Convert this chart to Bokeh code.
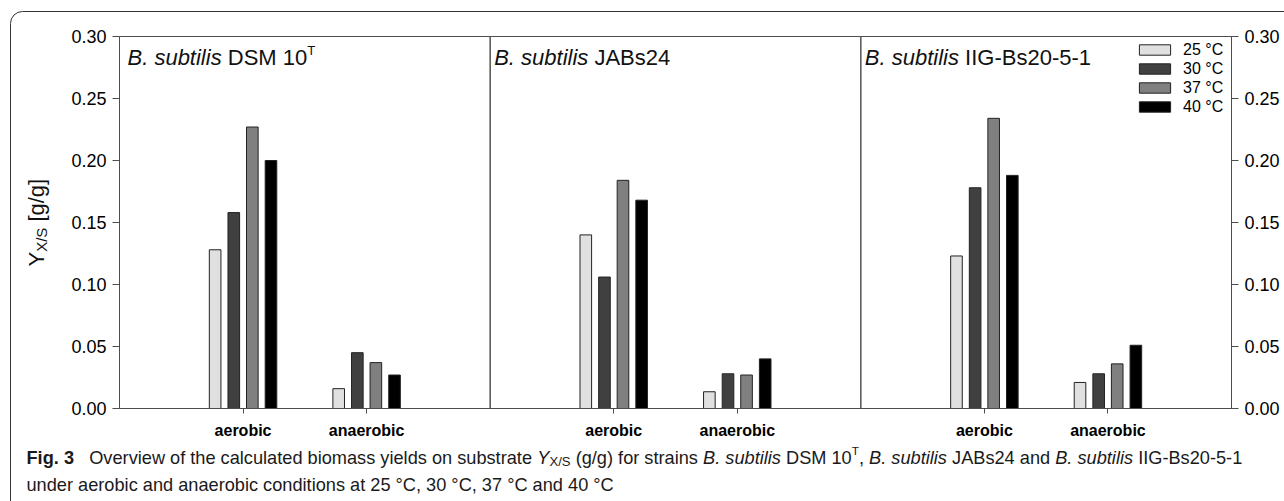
import math
from bokeh.plotting import figure
from bokeh.models import (Label, Legend, LegendItem, LinearAxis, FixedTicker,
                          BoxAnnotation, Range1d, PrintfTickFormatter)
from bokeh.embed import file_html
from bokeh.resources import INLINE

# ---------------- data ----------------
strains = ["DSM 10", "JABs24", "IIG-Bs20-5-1"]
conditions = ["aerobic", "anaerobic"]
temps = ["25 °C", "30 °C", "37 °C", "40 °C"]
# order: (DSM aerobic, DSM anaerobic, JABs24 aerobic, JABs24 anaerobic, IIG aerobic, IIG anaerobic)
y25 = [0.128, 0.016, 0.140, 0.0135, 0.123, 0.021]
y30 = [0.158, 0.045, 0.106, 0.028, 0.178, 0.028]
y37 = [0.227, 0.037, 0.184, 0.027, 0.234, 0.036]
y40 = [0.200, 0.027, 0.168, 0.040, 0.188, 0.051]
y_ticks = [0.00, 0.05, 0.10, 0.15, 0.20, 0.25, 0.30]

colors = ["#e0e0e0", "#404040", "#808080", "#000000"]

# ---------------- layout constants (pixels) ----------------
W, H = 1284, 501
FL, FR, FT, FB = 119, 1231, 36, 408     # plot box inside the canvas
XMAX = 3 * len(strains)
YMAX = 0.30
TEXT_DY = -6   # empirical baseline correction for Label text


def px2x(px):
    return (px - FL) / (FR - FL) * XMAX


def px2y(py):
    return (FB - py) / (FB - FT) * YMAX


# the frame covers the whole canvas so that texts outside the plot box are not clipped
p = figure(width=W, height=H, x_range=Range1d(px2x(0), px2x(W)), y_range=Range1d(px2y(H), px2y(0)),
           output_backend="svg", toolbar_location=None,
           x_axis_location=None, y_axis_location=None,
           min_border=0, min_border_left=0, min_border_right=0, min_border_top=0,
           min_border_bottom=0)
p.grid.visible = False
p.outline_line_color = None
p.background_fill_color = "white"
p.border_fill_color = "white"

TICK_FONT = "Liberation Sans"
AX_COLOR = "#4d4d4d"

# y axes (left and right), fixed at the plot-box edges
lax = LinearAxis(ticker=FixedTicker(ticks=y_ticks), formatter=PrintfTickFormatter(format="%.2f"),
                 fixed_location=0, bounds=(0, YMAX))
rax = LinearAxis(ticker=FixedTicker(ticks=y_ticks), formatter=PrintfTickFormatter(format="%.2f"),
                 fixed_location=XMAX, bounds=(0, YMAX))
p.add_layout(lax, "left")
p.add_layout(rax, "right")
for ax in [lax, rax]:
    ax.major_tick_in = 0
    ax.major_tick_out = 7
    ax.minor_tick_line_color = None
    ax.axis_line_color = AX_COLOR
    ax.major_tick_line_color = AX_COLOR
    ax.major_label_text_font = TICK_FONT
    ax.major_label_text_font_size = "18px"
    ax.major_label_text_color = "#000000"
    ax.major_label_standoff = 6

# x axis with category ticks
xt = []
overrides = {}
for s in range(len(strains)):
    for c, cname in enumerate(conditions):
        pos = 3 * s + 1 + c
        xt.append(pos)
        overrides[pos] = cname
xax = LinearAxis(ticker=FixedTicker(ticks=xt), fixed_location=0, bounds=(0, XMAX))
p.add_layout(xax, "below")
xax.major_label_overrides = overrides
xax.major_tick_in = 0
xax.major_tick_out = 5
xax.minor_tick_line_color = None
xax.axis_line_color = AX_COLOR
xax.major_tick_line_color = AX_COLOR
xax.major_label_text_font = TICK_FONT
xax.major_label_text_font_style = "bold"
xax.major_label_text_font_size = "16px"
xax.major_label_text_color = "#000000"
xax.major_label_standoff = 8

# panel boxes (plot-box outline + dividers)
for s in range(len(strains)):
    p.add_layout(BoxAnnotation(left=3 * s, right=3 * s + 3, bottom=0, top=YMAX,
                               fill_alpha=0, line_color=AX_COLOR, line_alpha=1.0, line_width=1))

# bars
offsets = [-0.226, -0.075, 0.075, 0.226]
renderers = []
for t, vals in enumerate([y25, y30, y37, y40]):
    xs = []
    for s in range(len(strains)):
        for c in range(len(conditions)):
            xs.append(3 * s + 1 + c + offsets[t])
    r = p.vbar(x=xs, top=vals, bottom=0, width=0.094, fill_color=colors[t],
               line_color="#222222", line_width=1)
    renderers.append(r)

LEG_PAD = 4
LEG_ROW = 19
leg_h = 2 * LEG_PAD + 4 * LEG_ROW
legend = Legend(items=[LegendItem(label=temps[t], renderers=[renderers[t]]) for t in range(4)],
                location=(1131, H - FT - leg_h), margin=0, padding=LEG_PAD, spacing=0,
                glyph_width=39, glyph_height=13, label_standoff=9, label_height=LEG_ROW,
                label_text_font=TICK_FONT, label_text_font_size="16px",
                label_text_color="#000000",
                border_line_alpha=0, background_fill_alpha=0)
p.add_layout(legend)

# ---------------- text helpers ----------------
REG = {' ': 278, '!': 278, '(': 333, ')': 333, ',': 278, '-': 333, '.': 278, '/': 278,
       '\u00b0': 400, '[': 278, ']': 278}
for d in "0123456789":
    REG[d] = 556
REG.update(dict(A=667, B=667, C=722, D=722, E=667, F=611, G=778, H=722, I=278, J=500, K=667,
                L=556, M=833, N=722, O=778, P=667, Q=778, R=722, S=667, T=611, U=722, V=667,
                W=944, X=667, Y=667, Z=611))
REG.update(dict(a=556, b=556, c=500, d=556, e=556, f=278, g=556, h=556, i=222, j=222, k=500,
                l=222, m=833, n=556, o=556, p=556, q=556, r=333, s=500, t=278, u=556, v=500,
                w=722, x=500, y=500, z=500))
BOLD = dict(REG)
BOLD.update(dict(A=722, B=722, F=611, a=556, b=611, c=556, d=611, e=556, f=333, g=611, h=611,
                 i=278, j=278, k=556, l=278, m=889, n=611, o=611, p=611, q=611, r=389, s=556,
                 t=333, u=611, v=556, w=778, x=556, y=556))


def tw(text, style):
    tbl = BOLD if style == "bold" else REG
    return sum(tbl.get(ch, 556) for ch in text) / 1000.0


def add_text(lx, ly, core, fs, style, font, color, angle=0.0):
    p.add_layout(Label(x=px2x(lx), y=px2y(ly), text=core, text_font=font,
                       text_font_size=f"{fs:.1f}px", text_font_style=style,
                       text_color=color, text_align="left",
                       text_baseline="alphabetic", angle=angle))


def place_run(pieces, x0, baseline, size, font, color):
    """Horizontal run of styled pieces: (text, style, scale, dy_frac)."""
    pos = x0
    for text, style, scale, dy in pieces:
        fs = size * scale
        lead = len(text) - len(text.lstrip(" "))
        trail = len(text) - len(text.rstrip(" "))
        core = text.strip(" ")
        pos += tw(" " * lead, style) * fs
        if core:
            add_text(pos, baseline + dy * size + TEXT_DY, core, fs, style, font, color)
        pos += tw(core, style) * fs + tw(" " * trail, style) * fs
    return pos


def place_up(pieces, baseline_x, y0, size, font, color):
    """Vertical (bottom-to-top) run of styled pieces."""
    pos = y0
    for text, style, scale, dy in pieces:
        fs = size * scale
        lead = len(text) - len(text.lstrip(" "))
        core = text.strip(" ")
        pos -= tw(" " * lead, style) * fs
        add_text(baseline_x + dy * size + TEXT_DY, pos, core, fs, style, font, color,
                 angle=math.pi / 2)
        pos -= tw(core, style) * fs


# panel titles
title_inset = [8, 4, 4]
panel_w = (FR - FL) / len(strains)
for s, name in enumerate(strains):
    x0 = FL + s * panel_w + title_inset[s]
    pcs = [("B. subtilis", "italic", 1, 0), (" " + name, "normal", 1, 0)]
    if s == 0:
        pcs.append(("T", "normal", 0.6, -0.32))
    place_run(pcs, x0, 63, 22, "Liberation Sans", "#111111")

# y axis label (rotated)
place_up([("Y", "normal", 1, 0), ("X/S", "normal", 0.68, 0.22), (" [g/g]", "normal", 1, 0)],
         42, 266, 22, "Liberation Sans", "#111111")

# caption
line1 = [
    ("Fig. 3", "bold", 1, 0),
    ("   Overview of the calculated biomass yields on substrate ", "normal", 1, 0),
    ("Y", "italic", 1, 0),
    ("X/S", "normal", 0.72, 0.22),
    (" (g/g) for strains ", "normal", 1, 0),
    ("B. subtilis", "italic", 1, 0),
    (" DSM 10", "normal", 1, 0),
    ("T", "normal", 0.65, -0.38),
    (", ", "normal", 1, 0),
    ("B. subtilis", "italic", 1, 0),
    (" JABs24 and ", "normal", 1, 0),
    ("B. subtilis", "italic", 1, 0),
    (" IIG-Bs20-5-1", "normal", 1, 0),
]
line2 = [("under aerobic and anaerobic conditions at 25 °C, 30 °C, 37 °C and 40 °C", "normal", 1, 0)]
unit = sum(tw(t, st) * sc for t, st, sc, _ in line1)
cap_size = round((1243 - 26) / unit, 1)
place_run(line1, 26, 463, cap_size, "Liberation Sans", "#1a1a1a")
place_run(line2, 26, 490, cap_size, "Liberation Sans", "#1a1a1a")

# outer frame (rounded top-left corner)
p.add_layout(BoxAnnotation(left=px2x(10), right=px2x(1400), top=px2y(11), bottom=px2y(700),
                           fill_alpha=0, line_color="#333333", line_alpha=1.0, line_width=1,
                           border_radius=12))

open("out.html", "w").write(file_html(p, INLINE))
